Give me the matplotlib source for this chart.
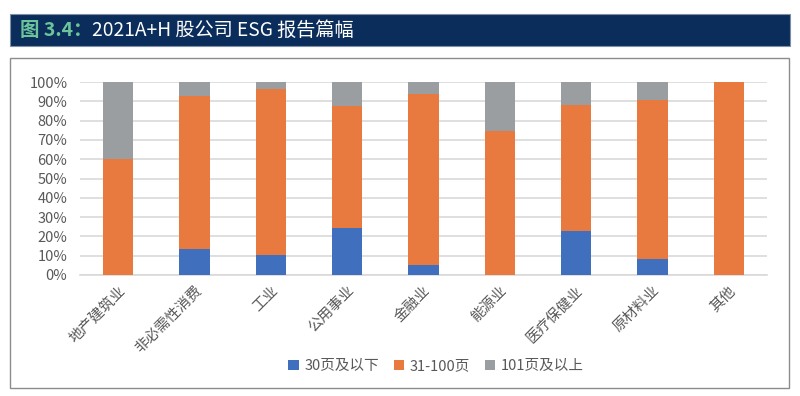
import numpy as np
import matplotlib.pyplot as plt
from matplotlib.patches import Rectangle

plt.rcParams['font.family'] = ['Noto Sans CJK SC', 'DejaVu Sans']

categories = ['地产建筑业', '非必需性消费', '工业', '公用事业', '金融业',
              '能源业', '医疗保健业', '原材料业', '其他']
# 各行业报告篇幅占比（%）
short = [0, 13.5, 10.2, 24.5, 5.2, 0, 23.0, 8.5, 0]
mid = [60.0, 79.2, 86.0, 62.9, 88.7, 74.8, 64.9, 82.2, 100.0]
long_ = [40.0, 7.3, 3.8, 12.6, 6.1, 25.2, 12.1, 9.3, 0]
series_names = ['30页及以下', '31-100页', '101页及以上']
colors = ['#4070bd', '#e8793f', '#9b9ea1']

W, H = 800, 396
fig = plt.figure(figsize=(8, 3.96), dpi=100)

# 标题栏
fig.patches.append(Rectangle((10 / W, 1 - 46 / H), 780 / W, 32 / H,
                             transform=fig.transFigure, facecolor='#0b2d5b',
                             edgecolor='#7f8fa6', lw=0.8, zorder=0))
fig.text(20 / W, 1 - 30 / H, '图 3.4：', color='#6cc49a', fontsize=14,
         fontweight='bold', va='center', ha='left')
fig.text(92 / W, 1 - 30 / H, '2021A+H 股公司 ESG 报告篇幅', color='white',
         fontsize=13.8, va='center', ha='left')

# 图表外框
fig.patches.append(Rectangle((10 / W, 1 - 388 / H), 779 / W, 330 / H,
                             transform=fig.transFigure, facecolor='none',
                             edgecolor='#8c8c8c', lw=1.0, zorder=0))

ax = fig.add_axes([80 / W, 1 - 275 / H, 687 / W, 193 / H])
ax.set_facecolor('none')
x = np.arange(len(categories))
w = 0.4
bottom = np.zeros(len(categories))
for vals, name, c in zip([short, mid, long_], series_names, colors):
    ax.bar(x, vals, w, bottom=bottom, color=c, label=name, zorder=3)
    bottom += np.array(vals)

ax.set_xlim(-0.5, len(categories) - 0.5)
ax.set_ylim(0, 100)
ax.set_yticks(np.arange(0, 101, 10))
ax.set_yticklabels([f'{v}%' for v in range(0, 101, 10)])
ax.yaxis.grid(True, color='#d9d9d9', lw=1.2, zorder=0)
for s in ['top', 'right', 'left']:
    ax.spines[s].set_visible(False)
ax.spines['bottom'].set_color('#d9d9d9')
ax.spines['bottom'].set_linewidth(1.2)
ax.tick_params(axis='both', length=0, colors='#595959', labelsize=10.5)
ax.tick_params(axis='y', pad=9)
ax.set_xticks(x)
ax.set_xticklabels(categories, rotation=45, ha='right', va='top',
                   rotation_mode='anchor')
ax.tick_params(axis='x', pad=6)

fig.legend(loc='center', bbox_to_anchor=(436 / W, 1 - 366 / H), ncol=3,
           frameon=False, fontsize=10.5, handlelength=0.7, handleheight=0.7,
           handletextpad=0.4, columnspacing=1.0, labelcolor='#595959')

fig.savefig('out.png', dpi=100)
